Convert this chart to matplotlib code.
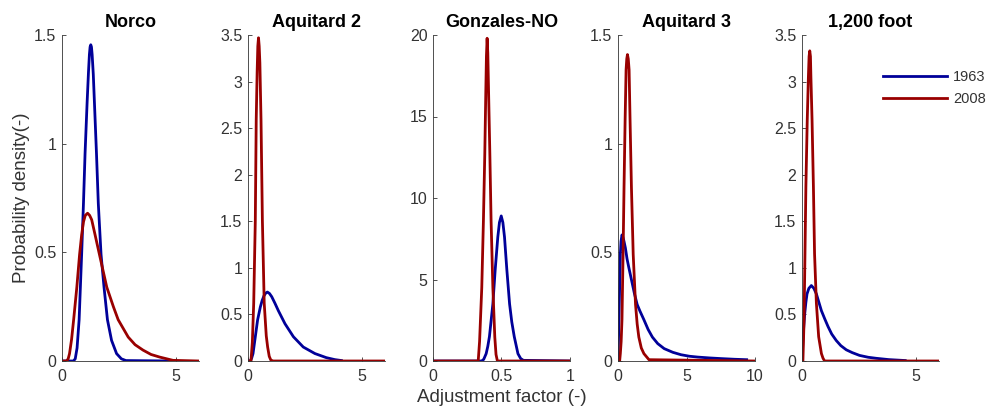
import matplotlib
matplotlib.use("Agg")
import matplotlib.pyplot as plt

plt.rcParams['font.family'] = ['Liberation Sans', 'DejaVu Sans']

titles = ["Norco", "Aquitard 2", "Gonzales-NO", "Aquitard 3", "1,200 foot"]
legend_labels = ["1963", "2008"]

# Norco
norco_1963_x = [0.0, 0.5, 0.58, 0.66, 0.75, 0.86, 0.94, 1.01, 1.10, 1.16, 1.20, 1.23, 1.26, 1.29,
                1.32, 1.37, 1.42, 1.51, 1.59, 1.71, 1.84, 1.99, 2.17, 2.39, 2.6, 2.8, 4.86]
norco_1963_y = [0.0, 0.0, 0.01, 0.06, 0.19, 0.49, 0.725, 0.955, 1.19, 1.33, 1.41, 1.445, 1.455, 1.445,
                1.41, 1.32, 1.19, 0.955, 0.725, 0.49, 0.34, 0.19, 0.095, 0.034, 0.01, 0.002, 0.0]
norco_2008_x = [0.0, 0.2, 0.27, 0.33, 0.42, 0.51, 0.65, 0.77, 0.86, 0.94, 1.02, 1.12, 1.21, 1.30,
                1.45, 1.64, 1.96, 2.25, 2.46, 2.9, 3.2, 3.55, 3.9, 4.28, 4.86, 6.0]
norco_2008_y = [0.0, 0.0, 0.01, 0.034, 0.10, 0.19, 0.34, 0.49, 0.58, 0.64, 0.67, 0.68, 0.67, 0.65,
                0.58, 0.49, 0.34, 0.25, 0.19, 0.11, 0.075, 0.05, 0.03, 0.018, 0.003, 0.0]

# Aquitard 2
aq2_1963_x = [0.0, 0.1, 0.16, 0.22, 0.32, 0.42, 0.54, 0.62, 0.70, 0.78, 0.85, 0.94, 1.04, 1.18,
              1.33, 1.62, 1.99, 2.42, 2.93, 3.43, 3.8, 4.09]
aq2_1963_y = [0.0, 0.0, 0.03, 0.08, 0.26, 0.44, 0.58, 0.65, 0.70, 0.73, 0.74, 0.725, 0.69, 0.62,
              0.54, 0.40, 0.26, 0.15, 0.08, 0.036, 0.015, 0.005]
aq2_2008_x = [0.0, 0.13, 0.19, 0.25, 0.32, 0.36, 0.40, 0.43, 0.46, 0.49, 0.52, 0.57, 0.63, 0.71,
              0.80, 0.86, 0.93, 1.0, 1.1, 6.0]
aq2_2008_y = [0.0, 0.0, 0.2, 0.62, 1.51, 2.59, 3.1, 3.38, 3.47, 3.38, 3.2, 2.59, 1.51, 0.62,
              0.27, 0.15, 0.05, 0.01, 0.0, 0.0]

# Gonzales-NO
gon_1963_x = [0.0, 0.355, 0.37, 0.388, 0.40, 0.412, 0.437, 0.454, 0.473, 0.485, 0.498, 0.51,
              0.522, 0.539, 0.559, 0.575, 0.593, 0.62, 0.64, 0.66, 1.0]
gon_1963_y = [0.0, 0.0, 0.1, 0.45, 0.9, 1.5, 3.5, 5.6, 7.6, 8.5, 8.9, 8.5,
              7.6, 5.6, 3.5, 2.4, 1.5, 0.45, 0.15, 0.04, 0.0]
gon_2008_x = [0.0, 0.33, 0.34, 0.356, 0.368, 0.378, 0.385, 0.39, 0.395, 0.40, 0.405, 0.415,
              0.424, 0.437, 0.451, 0.46, 0.47, 1.0]
gon_2008_y = [0.0, 0.0, 1.2, 4.5, 8.6, 12.7, 16.3, 18.7, 19.8, 18.9, 16.8, 12.7,
              8.6, 4.5, 1.47, 0.4, 0.0, 0.0]

# Aquitard 3
aq3_1963_x = [0.0, 0.02, 0.05, 0.09, 0.12, 0.17, 0.22, 0.29, 0.36, 0.44, 0.54, 0.66, 0.79, 1.03,
              1.2, 1.40, 1.6, 1.89, 2.2, 2.51, 2.9, 3.37, 4.0, 4.59, 5.2, 5.82, 6.7, 7.54, 8.5, 9.39]
aq3_1963_y = [0.0, 0.05, 0.14, 0.26, 0.34, 0.49, 0.55, 0.58, 0.57, 0.55, 0.52, 0.47, 0.43, 0.36,
              0.31, 0.26, 0.23, 0.19, 0.145, 0.11, 0.08, 0.057, 0.04, 0.029, 0.022, 0.018, 0.014,
              0.011, 0.008, 0.006]
aq3_2008_x = [0.0, 0.12, 0.17, 0.23, 0.29, 0.37, 0.44, 0.52, 0.59, 0.64, 0.69, 0.75, 0.81, 0.88,
              0.98, 1.11, 1.28, 1.40, 1.52, 1.7, 1.89, 2.26, 10.0]
aq3_2008_y = [0.0, 0.0, 0.034, 0.09, 0.19, 0.49, 0.80, 1.11, 1.34, 1.39, 1.41, 1.39, 1.34, 1.11,
              0.80, 0.49, 0.26, 0.17, 0.11, 0.06, 0.034, 0.006, 0.0]

# 1,200 foot
ft_1963_x = [0.0, 0.02, 0.04, 0.08, 0.12, 0.17, 0.22, 0.3, 0.41, 0.52, 0.63, 0.74, 0.85, 1.0,
             1.14, 1.3, 1.50, 1.7, 1.94, 2.2, 2.52, 2.9, 3.25, 3.8, 4.52]
ft_1963_y = [0.0, 0.1, 0.22, 0.38, 0.51, 0.63, 0.72, 0.78, 0.81, 0.78, 0.72, 0.63, 0.54, 0.45,
             0.37, 0.29, 0.22, 0.165, 0.12, 0.09, 0.06, 0.04, 0.029, 0.015, 0.005]
ft_2008_x = [0.0, 0.04, 0.09, 0.13, 0.17, 0.23, 0.28, 0.31, 0.34, 0.37, 0.39, 0.44, 0.50, 0.55,
             0.63, 0.73, 0.85, 0.92, 0.99, 6.0]
ft_2008_y = [0.0, 0.0, 0.44, 1.15, 1.87, 2.59, 3.05, 3.27, 3.33, 3.27, 3.05, 2.59, 1.87, 1.15,
             0.62, 0.26, 0.08, 0.03, 0.0, 0.0]

series = [
    (norco_1963_x, norco_1963_y, norco_2008_x, norco_2008_y),
    (aq2_1963_x, aq2_1963_y, aq2_2008_x, aq2_2008_y),
    (gon_1963_x, gon_1963_y, gon_2008_x, gon_2008_y),
    (aq3_1963_x, aq3_1963_y, aq3_2008_x, aq3_2008_y),
    (ft_1963_x, ft_1963_y, ft_2008_x, ft_2008_y),
]
xlims = [6, 6, 1, 10, 6]
ylims = [1.5, 3.5, 20, 1.5, 3.5]
xticks = [[0, 5], [0, 5], [0, 0.5, 1], [0, 5, 10], [0, 5]]
yticks = [[0, 0.5, 1, 1.5], [0, 0.5, 1, 1.5, 2, 2.5, 3, 3.5], [0, 5, 10, 15, 20],
          [0, 0.5, 1, 1.5], [0, 0.5, 1, 1.5, 2, 2.5, 3, 3.5]]

blue = '#000099'
red = '#990000'
gray = '#333333'
W, H = 990, 409
fig = plt.figure(figsize=(W / 100, H / 100), dpi=100)
lefts = [62, 248, 433, 618, 802]
axw = 137
top_px, bot_px = 35, 361
axes = []
for i in range(5):
    ax = fig.add_axes([lefts[i] / W, (H - bot_px) / H, axw / W, (bot_px - top_px) / H])
    axes.append(ax)
    bx, by, rx, ry = series[i]
    ax.plot(bx, by, color=blue, lw=2, label=legend_labels[0], solid_joinstyle='round')
    ax.plot(rx, ry, color=red, lw=2, label=legend_labels[1], solid_joinstyle='round')
    ax.set_xlim(0, xlims[i])
    ax.set_ylim(0, ylims[i])
    ax.set_xticks(xticks[i])
    ax.set_yticks(yticks[i])
    ax.set_xticklabels([f"{t:g}" for t in xticks[i]])
    ax.set_yticklabels([f"{t:g}" for t in yticks[i]])
    for s in ['top', 'right']:
        ax.spines[s].set_visible(False)
    for s in ['left', 'bottom']:
        ax.spines[s].set_color(gray)
        ax.spines[s].set_linewidth(0.6)
    ax.tick_params(direction='in', length=3, width=0.6, colors=gray,
                   labelsize=11.5, labelcolor=gray)
    ax.tick_params(axis='x', pad=6)
    ax.tick_params(axis='y', pad=4)
    ax.set_title(titles[i], fontsize=13, fontweight='bold', pad=6)

axes[0].set_ylabel("Probability density(-)", fontsize=13.5, color=gray, labelpad=3)
axes[2].set_xlabel("Adjustment factor (-)", fontsize=13.5, color=gray, labelpad=3)
leg = axes[4].legend(loc='upper left', bbox_to_anchor=(876 / W, 1 - 63 / H),
                     bbox_transform=fig.transFigure, frameon=False, fontsize=10.5,
                     borderpad=0, handlelength=4.4, handletextpad=0.4, labelspacing=0.55)
for t in leg.get_texts():
    t.set_color(gray)

fig.savefig("out.png", dpi=100)
